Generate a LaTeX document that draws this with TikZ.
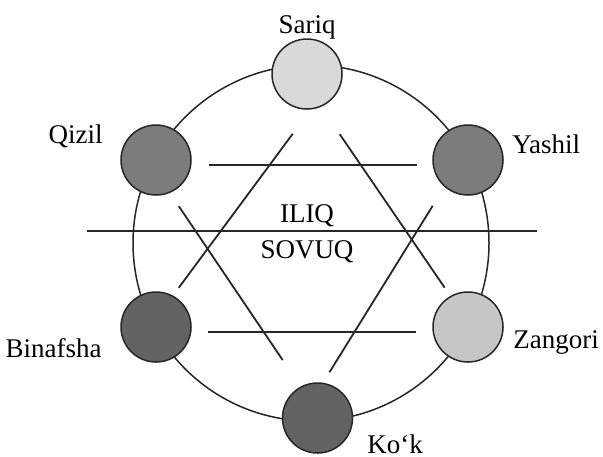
\documentclass[tikz,border=0pt]{standalone}
\usepackage{fontspec}
\setmainfont{Liberation Serif}
\definecolor{sariqfill}{HTML}{D9D9D9}
\definecolor{zangorifill}{HTML}{C6C6C6}
\definecolor{midfill}{HTML}{7C7C7C}
\definecolor{darkfill}{HTML}{636363}

\begin{document}
\begin{tikzpicture}[x=0.5pt,y=-0.5pt,
  dot/.style={circle, draw=black!85, line width=0.75pt, minimum size=35pt, inner sep=0pt},
  lbl/.style={font=\fontsize{13.5}{15}\selectfont, inner sep=0pt},
  hex/.style={line width=0.9pt, black!85}]
\useasboundingbox (0,0) rectangle (603,456);
\draw[line width=0.75pt, black!85] (311,243) circle (89pt);
\coordinate (up) at (317,101);
\coordinate (upl) at (146,332);
\coordinate (upr) at (475,332);
\coordinate (dn) at (311,402);
\coordinate (dnl) at (151,165);
\coordinate (dnr) at (458,165);
\coordinate (splitw) at (87,231);
\coordinate (splite) at (537,231);
\draw[hex, shorten <=20.4pt, shorten >=27.5pt] (up) -- (upl);
\draw[hex, shorten <=20.1pt, shorten >=26.9pt] (up) -- (upr);
\draw[hex, shorten <=31pt, shorten >=29.5pt] (upl) -- (upr);
\draw[hex, shorten <=29pt, shorten >=20.5pt] (dnl) -- (dnr);
\draw[hex, shorten <=24.8pt, shorten >=25.3pt] (dnl) -- (dn);
\draw[hex, shorten <=24pt, shorten >=17.5pt] (dnr) -- (dn);
\draw[hex] (splitw) -- (splite);
\node[dot, fill=sariqfill] (sariq) at (307,74) {};
\node[dot, fill=midfill] (qizil) at (156,160) {};
\node[dot, fill=midfill] (yashil) at (468,160) {};
\node[dot, fill=darkfill] (binafsha) at (156,327) {};
\node[dot, fill=zangorifill] (zangori) at (468,327) {};
\node[dot, fill=darkfill] (kok) at (317.5,418) {};
\node[lbl, anchor=base] (sariqlbl) at (307,33) {Sariq};
\node[lbl, anchor=base east] (qizillbl) at (103,143) {Qizil};
\node[lbl, anchor=base west] (yashillbl) at (512,153) {Yashil};
\node[lbl, anchor=base east] (binafshalbl) at (102,357) {Binafsha};
\node[lbl, anchor=base west] (zangorilbl) at (513,348) {Zangori};
\node[lbl, anchor=base west] (koklbl) at (367,453) {Ko‘k};
\node[lbl, anchor=base] (iliq) at (307,222) {ILIQ};
\node[lbl, anchor=base] (sovuq) at (307,258) {SOVUQ};
\end{tikzpicture}
\end{document}
